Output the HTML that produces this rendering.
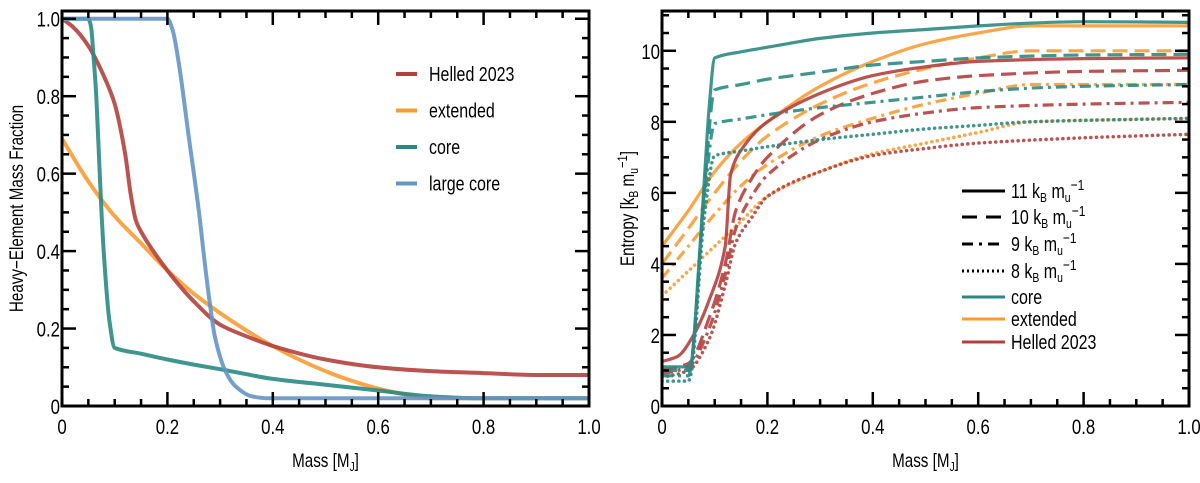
<!DOCTYPE html>
<html><head><meta charset="utf-8"><style>
html,body{margin:0;padding:0;background:#fff;}
svg{display:block;font-family:"Liberation Sans Narrow","Liberation Sans",sans-serif;}
</style></head><body>
<svg id="fig" width="1200" height="483" viewBox="0 0 1200 483">
<g id="left"></g>
<g id="right"></g>
</svg>
<script>
// ---- Left panel data ----
const helledX = [0,0.02,0.05,0.08,0.10,0.12,0.13,0.14,0.15,0.2,0.25,0.3,0.35,0.4,0.5,0.6,0.7,0.8,0.9,1.0];
const helledZ = [1.0,0.98,0.93,0.85,0.78,0.65,0.55,0.48,0.45,0.35,0.27,0.21,0.18,0.155,0.12,0.10,0.09,0.085,0.08,0.08];
const extX = [0,0.05,0.1,0.15,0.2,0.25,0.3,0.35,0.4,0.45,0.5,0.55,0.6,0.65,0.7,1.0];
const extZ = [0.69,0.58,0.49,0.42,0.35,0.29,0.24,0.195,0.155,0.12,0.09,0.065,0.045,0.03,0.02,0.02];
const coreX = [0,0.05,0.055,0.06,0.065,0.07,0.075,0.08,0.09,0.1,0.15,0.2,0.25,0.3,0.35,0.4,0.5,0.6,0.7,0.8,1.0];
const coreZ = [1,1,0.98,0.9,0.8,0.65,0.5,0.38,0.22,0.15,0.135,0.12,0.107,0.095,0.082,0.07,0.055,0.04,0.025,0.02,0.02];
const lcoreX = [0,0.2,0.21,0.22,0.24,0.26,0.27,0.28,0.29,0.31,0.33,0.36,0.39,1.0];
const lcoreZ = [1,1,0.97,0.9,0.7,0.5,0.38,0.27,0.18,0.09,0.05,0.025,0.02,0.02];
const leftXTicks = [0,0.2,0.4,0.6,0.8,1.0];
const leftXTickLabels = ["0","0.2","0.4","0.6","0.8","1.0"];
const leftYTicks = [0,0.2,0.4,0.6,0.8,1.0];
const leftYTickLabels = ["0","0.2","0.4","0.6","0.8","1.0"];

// ---- Right panel data ----
const sCoreX11 = [0,0.05,0.055,0.07,0.08,0.09,0.1,0.15,0.2,0.25,0.3,0.4,0.5,0.6,0.7,0.8,1.0];
const sCoreY11 = [1.1,1.1,1.2,4,6.3,8.5,9.8,9.97,10.1,10.23,10.35,10.5,10.6,10.7,10.78,10.82,10.8];
const sCoreX10 = [0,0.05,0.055,0.08,0.1,0.15,0.2,0.3,0.4,0.5,0.6,0.8,1.0];
const sCoreY10 = [1.0,1.0,1.2,6,8.9,9.05,9.2,9.4,9.6,9.7,9.8,9.88,9.9];
const sCoreX9 = [0,0.05,0.055,0.08,0.1,0.15,0.2,0.3,0.4,0.5,0.6,0.7,0.8,1.0];
const sCoreY9 = [0.85,0.85,1.1,5.8,7.95,8.08,8.2,8.4,8.55,8.7,8.85,8.95,9.0,9.05];
const sCoreX8 = [0,0.05,0.055,0.08,0.1,0.15,0.2,0.3,0.4,0.5,0.6,0.7,1.0];
const sCoreY8 = [0.7,0.7,0.9,5.3,7.05,7.18,7.3,7.5,7.65,7.8,7.9,8.0,8.1];
const sExtX = [0,0.05,0.1,0.15,0.2,0.3,0.4,0.5,0.6,0.7,1.0];
const sExtY11 = [4.5,5.5,6.6,7.4,8.0,9.0,9.7,10.2,10.5,10.7,10.7];
const sExtY10 = [4.0,5.0,6.0,6.9,7.6,8.5,9.1,9.5,9.8,10.0,10.0];
const sExtY9 = [3.6,4.5,5.4,6.2,6.8,7.6,8.1,8.5,8.8,9.05,9.05];
const sExtY8 = [3.1,3.8,4.5,5.2,5.9,6.6,7.1,7.4,7.7,8.0,8.1];
const sHelX11 = [0,0.03,0.06,0.09,0.12,0.13,0.15,0.2,0.3,0.4,0.5,0.6,0.8,1.0];
const sHelY11 = [1.25,1.4,2,3,4.5,6.5,7.2,8.0,8.8,9.3,9.55,9.7,9.78,9.8];
const sHelX = [0,0.05,0.09,0.12,0.14,0.17,0.2,0.3,0.4,0.5,0.6,0.8,1.0];
const sHelY10 = [1.0,1.2,2.5,4,5.5,6.4,7.0,8.2,8.8,9.15,9.3,9.42,9.45];
const sHelY9 = [0.9,1.1,2.2,3.7,5.0,5.9,6.5,7.5,8.0,8.25,8.4,8.5,8.55];
const sHelY8 = [0.8,1.0,1.9,3.4,4.6,5.3,5.9,6.6,7.05,7.25,7.4,7.55,7.65];
const rightXTicks = [0,0.2,0.4,0.6,0.8,1.0];
const rightXTickLabels = ["0","0.2","0.4","0.6","0.8","1.0"];
const rightYTicks = [0,2,4,6,8,10];
const rightYTickLabels = ["0","2","4","6","8","10"];

const NS = "http://www.w3.org/2000/svg";
const RED="#b4403e", ORANGE="#f89c35", TEAL="#2a8a83", BLUE="#6595c4";
const SQ=0.8;
function mk(parent, tag, attrs){const e=document.createElementNS(NS,tag);for(const k in attrs)e.setAttribute(k,attrs[k]);parent.appendChild(e);return e;}
function txt(parent,x,y,html,size,anchor,rot){
  const tr = `translate(${x},${y})`+(rot?` rotate(-90)`:``)+` scale(${SQ},1)`;
  const t=mk(parent,"text",{x:0,y:0,"font-size":size,"text-anchor":anchor||"start",transform:tr});
  t.innerHTML=html;
  return t;
}
function smoothPath(px,py){
  const n=px.length;
  const d=[],m=new Array(n);
  for(let i=0;i<n-1;i++) d.push((py[i+1]-py[i])/(px[i+1]-px[i]));
  m[0]=d[0]; m[n-1]=d[n-2];
  for(let i=1;i<n-1;i++){ m[i]=(d[i-1]*d[i]<=0)?0:2*d[i-1]*d[i]/(d[i-1]+d[i]); }
  let s="M"+px[0].toFixed(1)+","+py[0].toFixed(1);
  for(let i=0;i<n-1;i++){
    const h=(px[i+1]-px[i])/3;
    s+="C"+(px[i]+h).toFixed(1)+","+(py[i]+m[i]*h).toFixed(1)+" "+(px[i+1]-h).toFixed(1)+","+(py[i+1]-m[i+1]*h).toFixed(1)+" "+px[i+1].toFixed(1)+","+py[i+1].toFixed(1);
  }
  return s;
}

function axes(g, x0,x1,yTop,yBot, ymax, xT, xTL, yT, yTL, xMinorStep, yMinorStep, ylabel, isRight){
  const sx=v=>x0+(x1-x0)*v;
  const sy=v=>yBot-(yBot-yTop)*v/ymax;
  const clipId = isRight?"clipR":"clipL";
  const cp=mk(g,"clipPath",{id:clipId});
  mk(cp,"rect",{x:x0,y:yTop,width:x1-x0,height:yBot-yTop});
  const plot=mk(g,"g",{"clip-path":"url(#"+clipId+")"});
  
  
  const tg=mk(g,"g",{stroke:"#000","stroke-width":2.5});
  
  
  for(let v=0; v<=1.0001; v+=xMinorStep){
    const major = xT.some(t=>Math.abs(t-v)<1e-6);
    const L = major?14:7;
    mk(tg,"line",{x1:sx(v),x2:sx(v),y1:yBot,y2:yBot-L});
    mk(tg,"line",{x1:sx(v),x2:sx(v),y1:yTop,y2:yTop+L});
  }
  for(let v=0; v<=ymax; v+=yMinorStep){
    const major = yT.some(t=>Math.abs(t-v)<1e-6);
    const L = major?14:7;
    mk(tg,"line",{x1:x0,x2:x0+L,y1:sy(v),y2:sy(v)});
    mk(tg,"line",{x1:x1,x2:x1-L,y1:sy(v),y2:sy(v)});
  }
  const fr=mk(g,"rect",{x:x0,y:yTop,width:x1-x0,height:yBot-yTop,fill:"none",stroke:"#000","stroke-width":3});
  
  
  xT.forEach((t,i)=>{
    const e=txt(g,sx(t),yBot+28,xTL[i],21,"middle");
    
    
  });
  yT.forEach((t,i)=>{
    const e=txt(g,x0-2,sy(t)+8,yTL[i],21,"end");
    
    
  });
  const xl=txt(g,(x0+x1)/2,467,'Mass [M<tspan font-size="13" dy="4">J</tspan><tspan dy="-4">]</tspan>',19,"middle");
  
  
  const yx = isRight? 634 : 23;
  const yl=txt(g,yx,(yTop+yBot)/2,ylabel,19,"middle",true);
  
  
  return {sx,sy,plot};
}
const DASH={solid:null,dashed:"15,7",dashdot:"11,5,3,5",dotted:"0.1,5.5"};
function series(ax, xs, ys, color, style, w, name){
  const d=smoothPath(xs.map(ax.sx),ys.map(ax.sy));
  const a={d:d,fill:"none",stroke:color,"stroke-width":w,"stroke-linejoin":"round","stroke-opacity":0.9};
  if(DASH[style]) a["stroke-dasharray"]=DASH[style];
  if(style==="dotted") a["stroke-linecap"]="round";
  const p=mk(ax.plot,"path",a);
  
  
}

// Left panel
const L=document.getElementById("left");
const axL=axes(L,62,589,11,406,1.02,leftXTicks,leftXTickLabels,leftYTicks,leftYTickLabels,0.05,0.05,"Heavy−Element Mass Fraction",false);
series(axL,extX,extZ,ORANGE,"solid",4,"extended-line");
series(axL,helledX,helledZ,RED,"solid",4,"helled-2023-line");
series(axL,coreX,coreZ,TEAL,"solid",4,"core-line");
series(axL,lcoreX,lcoreZ,BLUE,"solid",4,"large-core-line");
const legL=[["Helled 2023",RED],["extended",ORANGE],["core",TEAL],["large core",BLUE]];
const lgL=mk(L,"g",{});


legL.forEach((e,i)=>{
  const y=74+i*36.5;
  const ln=mk(lgL,"line",{x1:396,x2:417,y1:y,y2:y,stroke:e[1],"stroke-width":4});
  
  
  const t=txt(lgL,429,y+7,e[0],20,"start");
  
  
});

// Right panel
const R=document.getElementById("right");
const axR=axes(R,662,1189,11,406,11.12,rightXTicks,rightXTickLabels,rightYTicks,rightYTickLabels,0.05,0.5,'Entropy [k<tspan font-size="13" dy="4">B</tspan><tspan dy="-4"> m</tspan><tspan font-size="13" dy="4">u</tspan><tspan dy="-11" font-size="14">−1</tspan><tspan dy="7">]</tspan>',true);
const W=3.2;
series(axR,sExtX,sExtY8,ORANGE,"dotted",3.5,"extended-8-line");
series(axR,sExtX,sExtY9,ORANGE,"dashdot",W,"extended-9-line");
series(axR,sExtX,sExtY10,ORANGE,"dashed",W,"extended-10-line");
series(axR,sExtX,sExtY11,ORANGE,"solid",W,"extended-11-line");
series(axR,sHelX,sHelY8,RED,"dotted",3.5,"helled-8-line");
series(axR,sHelX,sHelY9,RED,"dashdot",W,"helled-9-line");
series(axR,sHelX,sHelY10,RED,"dashed",W,"helled-10-line");
series(axR,sHelX11,sHelY11,RED,"solid",W,"helled-11-line");
series(axR,sCoreX8,sCoreY8,TEAL,"dotted",3.5,"core-8-line");
series(axR,sCoreX9,sCoreY9,TEAL,"dashdot",W,"core-9-line");
series(axR,sCoreX10,sCoreY10,TEAL,"dashed",W,"core-10-line");
series(axR,sCoreX11,sCoreY11,TEAL,"solid",W,"core-11-line");
const legR=[["11","#000","solid"],["10","#000","dashed"],["9","#000","dashdot"],["8","#000","dotted"],["core",TEAL,"solid"],["extended",ORANGE,"solid"],["Helled 2023",RED,"solid"]];
const LDASH={dashed:"15,9",dashdot:"11,6,3,6",dotted:"2,3"};
const lgR=mk(R,"g",{});


const legY=[191,217,244,271,297,319,342];
legR.forEach((e,i)=>{
  const y=legY[i];
  const a={x1:962,x2:1005,y1:y,y2:y,stroke:e[1],"stroke-width":3};
  if(LDASH[e[2]]) a["stroke-dasharray"]=LDASH[e[2]];
  const ln=mk(lgR,"line",a);
  
  
  const html = i<4 ? e[0]+' k<tspan font-size="13" dy="4">B</tspan><tspan dy="-4"> m</tspan><tspan font-size="13" dy="4">u</tspan><tspan font-size="15" dy="-12">−1</tspan>' : e[0];
  const t=txt(lgR,1011,y+7,html,20,"start");
  
  
});
</script>
</body></html>
